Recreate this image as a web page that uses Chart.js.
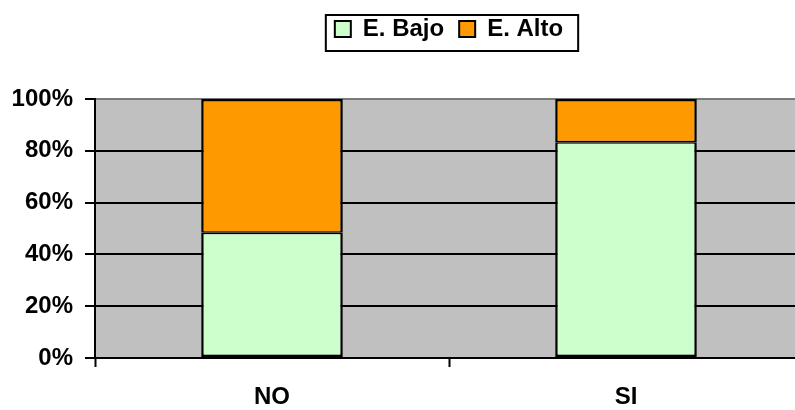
<!DOCTYPE html>
<html>
<head>
<meta charset="utf-8">
<script src="https://cdn.jsdelivr.net/npm/chart.js@4/dist/chart.umd.min.js"></script>
<style>
  html, body { margin: 0; padding: 0; background: #ffffff; overflow: hidden; }
  #wrap { width: 795px; height: 410px; overflow: hidden; position: relative; }
  #box { position: absolute; left: 0; top: 0; width: 804px; height: 410px; }
</style>
</head>
<body>
<div id="wrap"><div id="box"><canvas id="chart"></canvas></div></div>
<script>
// Categories and stacked shares (percent of each group)
const categories = ['NO', 'SI'];
const bajoValues = [48.4, 83.3];
const altoValues = [51.6, 16.7];
const seriesNames = ['E. Bajo', 'E. Alto'];
const yTickValues = [0, 20, 40, 60, 80, 100];

const FONT = "'Liberation Sans', Arial, Helvetica, sans-serif";
Chart.defaults.font.family = FONT;
Chart.defaults.color = '#000000';

// Grey plot-area fill
const plotBackground = {
  id: 'plotBackground',
  beforeDraw(chart) {
    const { ctx, chartArea: a } = chart;
    ctx.save();
    ctx.fillStyle = '#C0C0C0';
    ctx.fillRect(a.left, a.top, a.right - a.left, a.bottom - a.top);
    ctx.restore();
  }
};

// Extra room between the legend and the plot area
const legendSpacing = {
  id: 'legendSpacing',
  beforeLayout(chart) {
    const lg = chart.legend;
    if (lg && !lg.$spaced) {
      const fit = lg.fit;
      lg.fit = function () { fit.call(this); this.height += 48; };
      lg.$spaced = true;
    }
  }
};

// Framed legend
const legendFrame = {
  id: 'legendFrame',
  afterDraw(chart) {
    const lg = chart.legend;
    if (!lg || !lg.legendHitBoxes || !lg.legendHitBoxes.length) return;
    const hb = lg.legendHitBoxes;
    const first = hb[0], last = hb[hb.length - 1];
    const x0 = first.left - 9;
    const x1 = last.left + last.width + 15;
    const y0 = first.top - 2;
    const y1 = y0 + 36;
    const ctx = chart.ctx;
    ctx.save();
    ctx.strokeStyle = '#000000';
    ctx.lineWidth = 2;
    ctx.strokeRect(x0, y0, x1 - x0, y1 - y0);
    ctx.restore();
  }
};

new Chart(document.getElementById('chart'), {
  type: 'bar',
  data: {
    labels: categories,
    datasets: [
      {
        label: seriesNames[0],
        data: bajoValues,
        backgroundColor: '#CCFFCC',
        borderColor: '#000000',
        borderWidth: { top: 1.5, bottom: 2.5, left: 2.5, right: 2.5 },
        borderSkipped: false
      },
      {
        label: seriesNames[1],
        data: altoValues,
        backgroundColor: '#FF9900',
        borderColor: '#000000',
        borderWidth: { top: 2.5, bottom: 1.5, left: 2.5, right: 2.5 },
        borderSkipped: false
      }
    ]
  },
  options: {
    responsive: true,
    maintainAspectRatio: false,
    animation: false,
    devicePixelRatio: 1,
    categoryPercentage: 1.0,
    barPercentage: 0.4,
    layout: { padding: { top: 2, right: 1, bottom: 0, left: 0 } },
    plugins: {
      legend: {
        position: 'top',
        fullSize: false,
        labels: {
          boxWidth: 16,
          boxHeight: 16,
          padding: 15,
          color: '#000000',
          font: { size: 24, weight: 'bold', family: FONT },
          generateLabels(chart) {
            return chart.data.datasets.map((ds, i) => ({
              text: ds.label,
              fillStyle: ds.backgroundColor,
              strokeStyle: '#000000',
              lineWidth: 2,
              hidden: false,
              datasetIndex: i,
              fontColor: '#000000'
            }));
          }
        }
      },
      tooltip: { enabled: false }
    },
    scales: {
      x: {
        stacked: true,
        grid: {
          drawOnChartArea: false,
          drawTicks: true,
          tickLength: 9,
          tickWidth: 2,
          tickColor: '#000000',
          offset: true
        },
        border: { display: true, color: '#000000', width: 2 },
        ticks: {
          color: '#000000',
          padding: 16,
          font: { size: 24, weight: 'bold', family: FONT }
        },
        afterFit(scale) { scale.height = 52; }
      },
      y: {
        stacked: true,
        min: 0,
        max: 100,
        afterBuildTicks(scale) {
          scale.ticks = yTickValues.map(v => ({ value: v }));
        },
        grid: {
          color: ctx => (ctx.tick && ctx.tick.value === 100 ? '#7a7a7a' : '#000000'),
          lineWidth: 2,
          drawTicks: true,
          tickLength: 10,
          tickColor: '#000000'
        },
        border: { display: true, color: '#000000', width: 2 },
        ticks: {
          color: '#000000',
          padding: 12,
          font: { size: 24, weight: 'bold', family: FONT },
          callback: v => v + '%'
        },
        afterFit(scale) { scale.width = 95; }
      }
    }
  },
  plugins: [plotBackground, legendSpacing, legendFrame]
});
</script>
</body>
</html>
